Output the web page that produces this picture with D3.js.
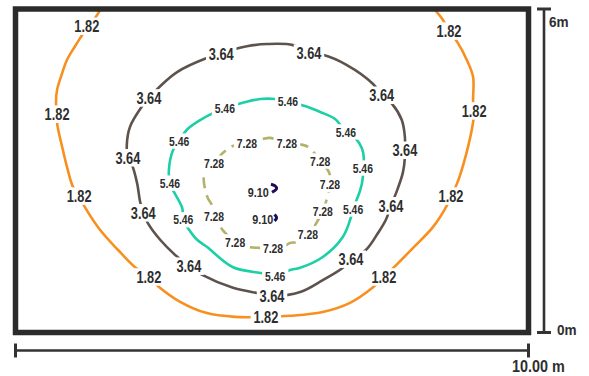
<!DOCTYPE html>
<html><head><meta charset="utf-8">
<script src="https://cdn.jsdelivr.net/npm/d3@7"></script>
<style>body{margin:0;background:#fff}svg{display:block}</style>
</head><body><svg id="c" width="589" height="376"></svg>
<script>
// Room dimensions (m) and scale-bar labels
const roomWidth = 10, roomHeight = 6;
const sideLabels = ["0m", "6m"];
const bottomLabel = "10.00 m";

// Isolux levels
const levels = ["1.82", "3.64", "5.46", "7.28", "9.10"];

// Contour polylines, [x m, y m]
const contour182 = [[1.66,6.0],[1.55,5.83],[1.39,5.67],[1.32,5.55],[1.16,5.31],[1.00,5.05],[0.91,4.81],[0.81,4.50],[0.79,4.26],[0.81,4.05],[0.81,3.89],[0.91,3.44],[1.02,3.01],[1.12,2.70],[1.24,2.53],[1.35,2.33],[1.65,1.90],[2.00,1.53],[2.33,1.21],[2.60,1.03],[2.78,0.86],[3.21,0.57],[3.73,0.36],[4.28,0.29],[4.88,0.29],[5.35,0.31],[5.99,0.38],[6.52,0.55],[6.97,0.84],[7.18,1.03],[7.42,1.25],[7.75,1.57],[8.14,1.96],[8.41,2.36],[8.49,2.53],[8.61,2.77],[8.78,3.29],[8.92,3.90],[8.94,4.11],[8.92,4.28],[8.92,4.74],[8.80,5.05],[8.61,5.39],[8.45,5.59],[8.33,5.80],[8.16,6.0]];
const contour364 = [[4.01,5.17],[4.28,5.26],[4.51,5.31],[4.90,5.35],[5.41,5.33],[5.72,5.18],[5.99,5.15],[6.46,4.96],[6.97,4.61],[7.14,4.40],[7.34,4.24],[7.53,3.94],[7.59,3.63],[7.59,3.38],[7.59,3.24],[7.55,2.96],[7.44,2.64],[7.32,2.35],[7.22,2.09],[7.07,1.85],[6.83,1.53],[6.54,1.36],[6.38,1.20],[5.99,0.97],[5.55,0.75],[5.00,0.68],[4.73,0.73],[4.24,0.83],[3.64,1.07],[3.38,1.23],[3.11,1.44],[2.82,1.72],[2.58,2.03],[2.49,2.22],[2.43,2.42],[2.37,2.77],[2.27,3.11],[2.19,3.24],[2.17,3.48],[2.23,3.81],[2.47,4.20],[2.60,4.35],[2.80,4.55],[3.15,4.83],[3.73,5.09]];
const contour546 = [[4.08,4.16],[4.43,4.26],[4.77,4.33],[5.06,4.33],[5.31,4.28],[5.64,4.20],[5.94,4.09],[6.23,3.96],[6.44,3.72],[6.62,3.61],[6.75,3.42],[6.79,3.24],[6.77,3.05],[6.77,2.87],[6.72,2.64],[6.58,2.29],[6.54,2.14],[6.38,1.77],[5.99,1.40],[5.55,1.20],[5.35,1.16],[5.06,1.05],[4.81,1.10],[4.24,1.21],[3.73,1.59],[3.54,1.72],[3.36,1.94],[3.27,2.09],[3.25,2.31],[3.07,2.64],[3.01,2.77],[2.99,3.01],[3.07,3.38],[3.19,3.55],[3.34,3.76],[3.60,3.94],[3.85,4.07]];
const contour728 = [[4.51,3.51],[4.82,3.59],[4.96,3.61],[5.29,3.51],[5.60,3.48],[5.74,3.42],[5.94,3.18],[6.09,3.01],[6.13,2.92],[6.13,2.74],[6.09,2.55],[5.99,2.25],[5.90,2.09],[5.82,1.96],[5.70,1.83],[5.49,1.68],[5.35,1.66],[5.21,1.59],[5.02,1.57],[4.77,1.57],[4.51,1.59],[4.28,1.68],[4.04,1.90],[3.95,2.03],[3.87,2.16],[3.83,2.36],[3.75,2.49],[3.69,2.68],[3.67,2.88],[3.73,3.05],[3.87,3.14],[4.04,3.33],[4.24,3.46]];
const contour910a = [[4.98,2.75],[5.06,2.72],[5.09,2.67],[5.00,2.60]];
const contour910b = [[5.05,2.19],[5.09,2.13],[5.05,2.07]];

// Label anchor points, [x m, y m]
const labels182 = [[1.39,5.68],[0.81,4.05],[1.24,2.53],[2.60,1.03],[4.88,0.29],[7.18,1.03],[8.49,2.53],[8.94,4.11],[8.45,5.59]];
const labels364 = [[4.01,5.17],[5.72,5.18],[7.14,4.40],[7.59,3.38],[7.32,2.35],[6.54,1.36],[5.00,0.68],[3.38,1.23],[2.49,2.22],[2.19,3.24],[2.60,4.35]];
const labels546 = [[4.08,4.16],[5.31,4.28],[6.44,3.72],[6.77,3.05],[6.58,2.29],[5.06,1.05],[3.27,2.09],[3.01,2.77],[3.19,3.55]];
const labels728 = [[4.51,3.51],[5.29,3.51],[5.94,3.18],[6.13,2.74],[5.99,2.25],[5.70,1.83],[5.02,1.57],[4.28,1.68],[3.87,2.16],[3.87,3.14]];
const labels910 = [[4.73,2.60],[4.82,2.11]];

const svg = d3.select("#c");
const x = d3.scaleLinear().domain([0, roomWidth]).range([15.5, 528.5]);
const y = d3.scaleLinear().domain([0, roomHeight]).range([332.5, 9]);
const FONT = "'Liberation Sans','Arial',sans-serif";
const TXT = "#2e2e2e";

// narrowed bold text helper
function ntext(parent, px, py, str, fs, sx, anchor) {
  const gg = parent.append("g").attr("transform", `translate(${px},${py}) scale(${sx},1)`);
  const t = gg.append("text").attr("x",0).attr("y",0).attr("text-anchor", anchor || "start")
    .attr("font-family",FONT).attr("font-weight","bold").attr("font-size",fs).attr("fill",TXT).text(str);
  return {g: gg, t: t};
}

svg.append("rect").attr("width",589).attr("height",376).attr("fill","#fff");
svg.append("clipPath").attr("id","room").append("rect")
  .attr("x",x(0)).attr("y",y(roomHeight)).attr("width",x(roomWidth)-x(0)).attr("height",y(0)-y(roomHeight));
const g = svg.append("g").attr("clip-path","url(#room)");

const specs = [
  {lines:[contour182], closed:false, labs:labels182, text:levels[0], color:"#f7901e", w:2.6, fs:16, dash:null, mask:true},
  {lines:[contour364], closed:true,  labs:labels364, text:levels[1], color:"#5e534c", w:2.6, fs:16, dash:null, mask:true},
  {lines:[contour546], closed:true,  labs:labels546, text:levels[2], color:"#1ccfa6", w:2.6, fs:13, dash:null, mask:true},
  {lines:[contour728], closed:true,  labs:labels728, text:levels[3], color:"#b3b26b", w:2.6, fs:13, dash:"11,7", mask:true},
  {lines:[contour910a, contour910b], closed:false, labs:labels910, text:levels[4], color:"#21095c", w:3, fs:13.5, dash:null, mask:false}
];

specs.forEach(s => {
  const line = d3.line().x(d => x(d[0])).y(d => y(d[1]))
    .curve(s.closed ? d3.curveCatmullRomClosed.alpha(0.5) : d3.curveCatmullRom.alpha(0.5));
  s.lines.forEach(pts => {
    g.append("path").attr("d", line(pts)).attr("fill","none")
      .attr("stroke", s.color).attr("stroke-width", s.w)
      .attr("stroke-dasharray", s.dash).attr("stroke-linecap","butt");
  });
  s.labs.forEach(p => {
    const o = ntext(g, x(p[0]), y(p[1]) + s.fs*0.36, s.text, s.fs, 0.8, "middle");
    if (s.mask) {
      const b = o.t.node().getBBox();
      o.g.insert("rect","text").attr("x", b.x - 3.5).attr("width", b.width + 7)
        .attr("y", -s.fs*0.72 - 3).attr("height", s.fs*0.72 + 6).attr("fill","#fff");
    }
  });
});

// Room border
svg.append("rect").attr("x",x(0)).attr("y",y(roomHeight)).attr("width",x(roomWidth)-x(0)).attr("height",y(0)-y(roomHeight))
  .attr("fill","none").attr("stroke","#2b2b2b").attr("stroke-width",5.5);

// Right scale bar
const bx = x(roomWidth) + 15.5;
svg.append("line").attr("x1",bx).attr("x2",bx).attr("y1",y(roomHeight)).attr("y2",y(0)).attr("stroke","#333").attr("stroke-width",2.6);
[0, roomHeight].forEach(v => svg.append("line").attr("x1",bx-7).attr("x2",bx+7).attr("y1",y(v)).attr("y2",y(v)).attr("stroke","#333").attr("stroke-width",3));
ntext(svg, bx+5, y(roomHeight)+18, sideLabels[1], 14, 0.97);
ntext(svg, bx+13, y(0)+2.5, sideLabels[0], 14, 0.97);

// Bottom scale bar
const by = y(0) + 18;
svg.append("line").attr("x1",x(0)).attr("x2",x(roomWidth)).attr("y1",by).attr("y2",by).attr("stroke","#333").attr("stroke-width",2.6);
[0, roomWidth].forEach(v => svg.append("line").attr("x1",x(v)).attr("x2",x(v)).attr("y1",by-7).attr("y2",by+7).attr("stroke","#333").attr("stroke-width",3));
ntext(svg, x(roomWidth)+10, 372, bottomLabel, 16, 0.9, "middle");
</script></body></html>
